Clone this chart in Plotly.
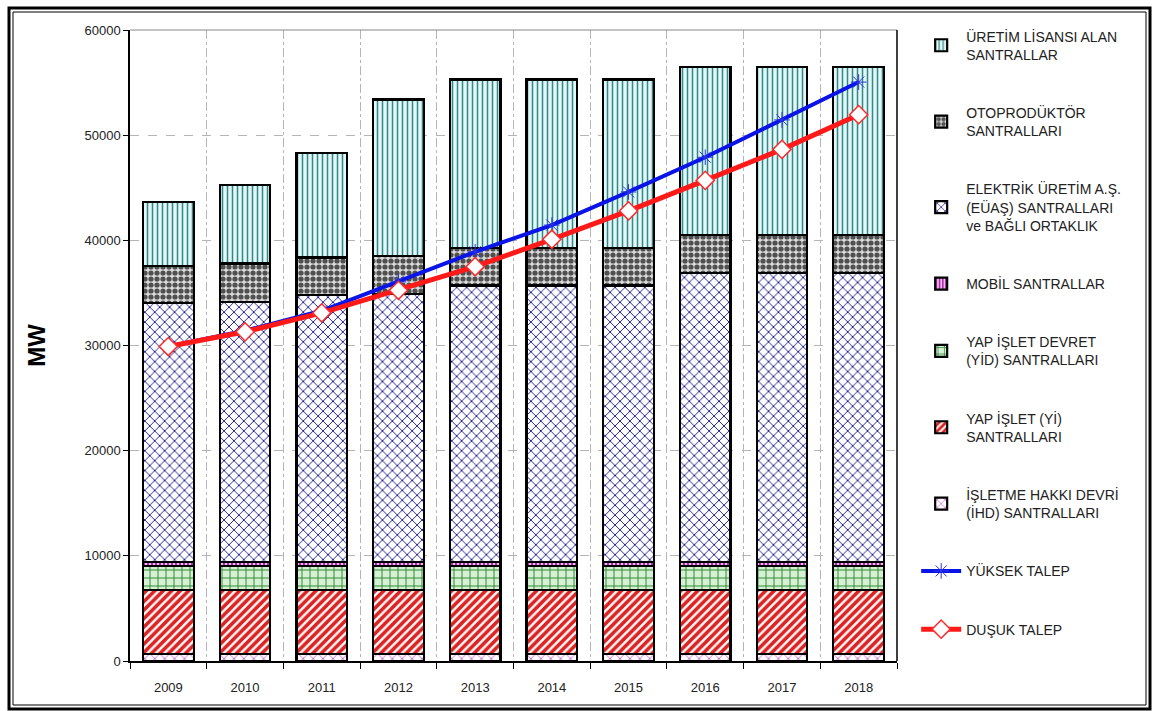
import plotly.graph_objects as go

years = [2009, 2010, 2011, 2012, 2013, 2014, 2015, 2016, 2017, 2018]

ihd = [650] * 10
yi = [6100] * 10
yid = [2300] * 10
mobil = [400] * 10
euas = [24610, 24670, 25340, 25440, 26250, 26250, 26250, 27450, 27450, 27450]
oto = [3520, 3680, 3580, 3610, 3600, 3600, 3600, 3580, 3580, 3580]
uretim = [6080, 7450, 9950, 14890, 16000, 16000, 16000, 16010, 16010, 16010]

yuksek = [29900, 31400, 33300, 36050, 38900, 41450, 44600, 47900, 51450, 55050]
dusuk = [29900, 31300, 33100, 35250, 37500, 40100, 42800, 45700, 48650, 51950]

names = {
    "uretim": "ÜRETİM LİSANSI ALAN<br>SANTRALLAR",
    "oto": "OTOPRODÜKTÖR<br>SANTRALLARI",
    "euas": "ELEKTRİK ÜRETİM A.Ş.<br>(EÜAŞ) SANTRALLARI<br>ve BAĞLI ORTAKLIK",
    "mobil": "MOBİL SANTRALLAR",
    "yid": "YAP İŞLET DEVRET<br>(YİD) SANTRALLARI",
    "yi": "YAP İŞLET (Yİ)<br>SANTRALLARI",
    "ihd": "İŞLETME HAKKI DEVRİ<br>(İHD) SANTRALLARI",
    "yuksek": "YÜKSEK TALEP",
    "dusuk": "DUŞUK TALEP",
}

fig = go.Figure()

bar_specs = [
    ("ihd", ihd, "x", "#c040c0", "#ffffff", 7, 0.2, 7),
    ("yi", yi, "/", "#dd2222", "#ffffff", 6, 0.6, 6),
    ("yid", yid, "+", "#2a862a", "#d6f0d6", 8, 0.22, 5),
    ("mobil", mobil, "|", "#a020a0", "#f0b8f0", 4, 0.45, 4),
    ("euas", euas, "x", "#1a1a8c", "#ffffff", 7, 0.25, 3),
    ("oto", oto, ".", "#505050", "#dcdcdc", 6, 0.6, 2),
    ("uretim", uretim, "|", "#2e8a8a", "#e4f6f6", 5, 0.3, 1),
]

for key, vals, shape, fg, bg, size, sol, rank in bar_specs:
    fig.add_trace(go.Bar(
        x=years, y=vals, name=names[key],
        legendgroup=key, legendrank=rank,
        marker=dict(
            color=bg,
            line=dict(color="black", width=2.2),
            pattern=dict(shape=shape, fgcolor=fg, bgcolor=bg, size=size, solidity=sol,
                         fillmode="overlay", fgopacity=1),
        ),
    ))

fig.add_trace(go.Scatter(
    x=years, y=yuksek, name=names["yuksek"], mode="lines+markers",
    legendgroup="yuksek", legendrank=8,
    line=dict(color="#0a14e6", width=4),
    marker=dict(symbol="asterisk-open", size=13, color="#2a34e6", line=dict(width=1, color="#2a34e6")),
))
fig.add_trace(go.Scatter(
    x=years, y=dusuk, name=names["dusuk"], mode="lines+markers",
    legendgroup="dusuk", legendrank=9,
    line=dict(color="#ff1a1a", width=5),
    marker=dict(symbol="diamond", size=14, color="white", line=dict(width=1.5, color="#ff2a2a")),
))

def px_x(p):
    return (p - 130) / 767.0

def px_y(p):
    return (661 - p) / 631.0

shapes = [
    dict(type="rect", xref="paper", yref="paper",
         x0=px_x(9), x1=px_x(1150), y0=px_y(709), y1=px_y(8),
         line=dict(color="black", width=3), layer="above"),
    dict(type="rect", xref="paper", yref="paper",
         x0=px_x(13), x1=px_x(1146), y0=px_y(705), y1=px_y(12),
         line=dict(color="black", width=1), layer="above"),
    dict(type="line", xref="paper", yref="paper", x0=0, x1=1, y0=1, y1=1,
         line=dict(color="#888888", width=1)),
    dict(type="line", xref="paper", yref="paper", x0=1, x1=1, y0=0, y1=1,
         line=dict(color="black", width=1.5)),
]

fig.update_layout(
    width=1153, height=711,
    barmode="stack", bargap=0.34,
    paper_bgcolor="white", plot_bgcolor="white",
    margin=dict(l=130, r=256, t=30, b=50, autoexpand=False),
    font=dict(family="Liberation Sans, Arial, sans-serif", color="#222222"),
    showlegend=True,
    legend=dict(
        x=1.025, y=1.015, xanchor="left", yanchor="top",
        traceorder="grouped", tracegroupgap=37,
        font=dict(size=14, color="#222222"),
        bgcolor="rgba(0,0,0,0)", itemwidth=40,
        maxheight=700,
    ),
    shapes=shapes,
)

fig.update_xaxes(
    range=[2008.5, 2018.5],
    tickmode="array", tickvals=years, ticktext=[str(y) for y in years],
    ticks="", showgrid=False,
    showline=True, linecolor="black", linewidth=1.5,
    tickfont=dict(size=13, color="#222222"),
    ticklabelstandoff=14,
    minor=dict(tickmode="linear", tick0=2008.5, dtick=1, ticks="outside", ticklen=6,
               tickcolor="black", showgrid=True, gridcolor="#b5b5b5", griddash="dashdot", gridwidth=1),
)
fig.update_yaxes(
    range=[0, 60000], dtick=10000, tickformat="d",
    showline=True, linecolor="black", linewidth=1.5,
    ticks="outside", ticklen=5, tickcolor="black",
    showgrid=True, gridcolor="#b5b5b5", griddash="dash", gridwidth=1,
    tickfont=dict(size=13, color="#222222"),
    title=dict(text="<b>MW</b>", font=dict(size=24, color="black"), standoff=32),
)

fig.write_html("out.html", config={"displayModeBar": False},
               post_script="document.body.style.margin='0';")
